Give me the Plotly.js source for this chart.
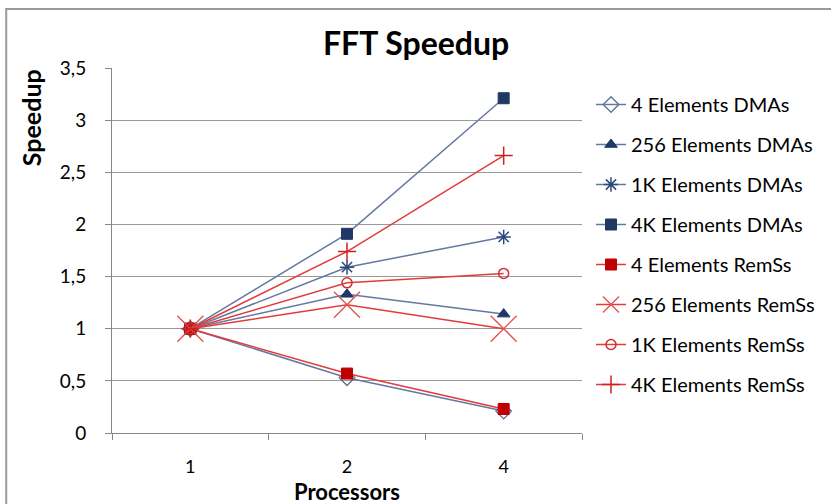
<!DOCTYPE html>
<html><head><meta charset="utf-8">
<script src="https://cdn.plot.ly/plotly-3.0.1.min.js"></script>
<style>body{margin:0;background:#fff}#c{width:831px;height:504px}</style>
</head><body><div id="c"></div>
<script>
const processors = ['1','2','4'];
const seriesNames = ['4 Elements DMAs','256 Elements DMAs','1K Elements DMAs','4K Elements DMAs',
  '4 Elements RemSs','256 Elements RemSs','1K Elements RemSs','4K Elements RemSs'];
const dma4 = [1, 0.53, 0.21];
const dma256 = [1, 1.33, 1.14];
const dma1k = [1, 1.59, 1.88];
const dma4k = [1, 1.91, 3.21];
const rem4 = [1, 0.57, 0.23];
const rem256 = [1, 1.23, 1.0];
const rem1k = [1, 1.44, 1.53];
const rem4k = [1, 1.74, 2.66];
const yTicks = [0, 0.5, 1, 1.5, 2, 2.5, 3, 3.5];

const blueLine = '#6479a0', blueMk = '#1f3864';
const redLine = '#e23b3b', redMk = '#c00000';
const styles = [
  {lc: blueLine, sym: 'diamond-open', mc: '#5b7197', size: 12, lw: 1.3},
  {lc: blueLine, sym: 'triangle-up', mc: blueMk, size: 11},
  {lc: blueLine, sym: 'asterisk-open', mc: '#2b4a7a', size: 12, lw: 1.5},
  {lc: blueLine, sym: 'square', mc: blueMk, size: 11},
  {lc: redLine, sym: 'square', mc: redMk, size: 11},
  {lc: redLine, sym: 'x-thin-open', mc: '#e05050', size: 26, lw: 1.3},
  {lc: redLine, sym: 'circle-open', mc: '#d03030', size: 10, lw: 1.5},
  {lc: redLine, sym: 'cross-thin-open', mc: '#d02020', size: 13, lw: 1.5}
];
const data = [dma4, dma256, dma1k, dma4k, rem4, rem256, rem1k, rem4k];
const traces = data.map((d, i) => ({
  type: 'scatter', mode: 'lines+markers', x: processors, y: d, name: seriesNames[i],
  legendgroup: 'g' + i,
  line: {color: styles[i].lc, width: 1.5},
  marker: {symbol: styles[i].sym, color: styles[i].mc, size: styles[i].size,
    line: {color: styles[i].mc, width: styles[i].lw || 1}}
}));
const font = 'Lato, "Open Sans", sans-serif';
const L = 112, R = 583, T = 68, B = 433;
const px = x => (x - L) / (R - L), py = y => (B - y) / (B - T);
const layout = {
  width: 831, height: 504,
  margin: {l: L, r: 831 - R, t: T, b: 504 - B},
  paper_bgcolor: '#fff', plot_bgcolor: '#fff',
  separators: ',.',
  font: {family: font, color: '#000'},
  showlegend: true,
  legend: {x: px(591), y: py(85), xanchor: 'left', yanchor: 'top',
    font: {family: font, size: 20, color: '#000'}, tracegroupgap: 11, itemwidth: 30,
    bgcolor: 'rgba(0,0,0,0)', borderwidth: 0},
  xaxis: {type: 'category', range: [-0.5, 2.5], tickson: 'boundaries', ticks: 'outside',
    ticklen: 6, tickcolor: '#888', showline: true, linecolor: '#888', linewidth: 1,
    showgrid: false, zeroline: false, tickfont: {size: 18, color: '#000', family: font},
    ticklabelstandoff: 17},
  yaxis: {range: [0, 3.5], tickvals: yTicks, ticks: 'outside', ticklen: 6, tickcolor: '#888',
    showline: true, linecolor: '#888', linewidth: 1, showgrid: true, gridcolor: '#9a9a9a',
    gridwidth: 1, zeroline: false, tickfont: {size: 19, color: '#000', family: font},
    ticklabelstandoff: 15},
  annotations: [
    {text: '<b>FFT Speedup</b>', xref: 'paper', yref: 'paper', x: px(417), y: py(42),
      xanchor: 'center', yanchor: 'middle', showarrow: false, font: {size: 32, family: font, color: '#000'}},
    {text: '<b>Speedup</b>', xref: 'paper', yref: 'paper', x: px(31), y: py(118),
      xanchor: 'center', yanchor: 'middle', textangle: -90, showarrow: false,
      font: {size: 25, family: font, color: '#000'}},
    {text: '<b>Processors</b>', xref: 'paper', yref: 'paper', x: px(347), y: py(491),
      xanchor: 'center', yanchor: 'middle', showarrow: false, font: {size: 22, family: font, color: '#000'}}
  ],
  shapes: [
    {type: 'path', xref: 'paper', yref: 'paper',
      path: 'M ' + px(6) + ' ' + py(510) + ' L ' + px(6) + ' ' + py(9) + ' L ' + px(840) + ' ' + py(9),
      line: {color: '#999', width: 2}}
  ]
};
Plotly.newPlot('c', traces, layout, {displayModeBar: false, staticPlot: true});
</script></body></html>
